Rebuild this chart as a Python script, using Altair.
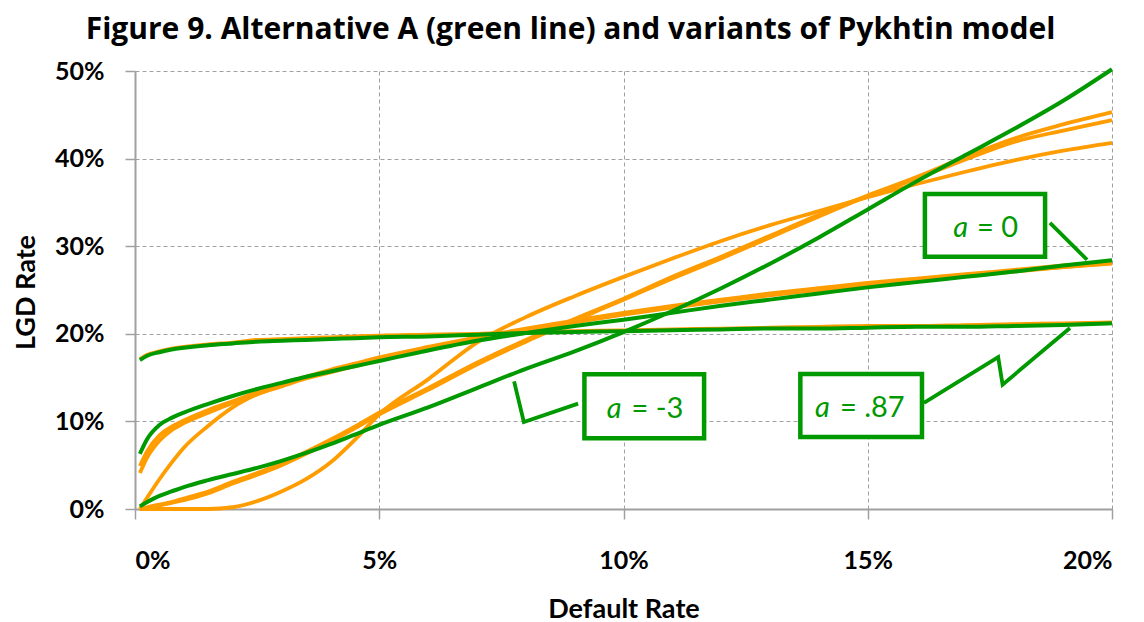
import altair as alt
import pandas as pd

# ---------------- data (values in percent) ----------------
dr = [0.1, 0.25, 0.5, 0.75, 1, 1.5, 2, 2.5, 3, 3.5, 4, 4.5, 5, 6, 7, 8, 9, 10,
      11, 12, 13, 14, 15, 16, 17, 18, 19, 20]

green_a087 = [17.0, 17.5, 17.9, 18.2, 18.4, 18.7, 18.9, 19.1, 19.2, 19.3, 19.4, 19.5, 19.6, 19.7,
              19.9, 20.1, 20.2, 20.3, 20.4, 20.5, 20.6, 20.6, 20.7, 20.8, 20.8, 20.9, 21.0, 21.2]
green_a0 = [6.3, 8.0, 9.6, 10.4, 11.0, 12.0, 12.9, 13.7, 14.4, 15.1, 15.7, 16.3, 16.9, 18.1,
            19.2, 20.1, 20.9, 21.6, 22.4, 23.2, 23.9, 24.6, 25.3, 25.9, 26.5, 27.1, 27.8, 28.4]
green_am3 = [0.3, 0.8, 1.5, 2.0, 2.5, 3.3, 4.0, 4.7, 5.5, 6.4, 7.4, 8.5, 9.6, 11.6,
             13.8, 16.0, 18.0, 20.2, 22.6, 25.2, 28.0, 31.0, 34.2, 37.4, 40.4, 43.4, 46.6, 50.2]

orange_a = [17.1, 17.6, 18.0, 18.3, 18.5, 18.8, 19.0, 19.3, 19.4, 19.5, 19.6, 19.7, 19.8, 19.9,
            20.0, 20.2, 20.3, 20.4, 20.5, 20.6, 20.7, 20.8, 20.9, 20.9, 21.0, 21.1, 21.2, 21.3]
orange_b = [4.9, 6.6, 8.4, 9.4, 10.1, 11.3, 12.3, 13.3, 14.2, 15.0, 15.7, 16.4, 17.1, 18.3,
            19.4, 20.4, 21.4, 22.3, 23.1, 23.8, 24.5, 25.1, 25.7, 26.2, 26.7, 27.2, 27.6, 28.1]
orange_c = [4.1, 5.9, 7.8, 9.0, 9.8, 11.0, 12.1, 13.1, 14.0, 14.9, 15.6, 16.3, 17.0, 18.2,
            19.3, 20.3, 21.3, 22.2, 23.0, 23.7, 24.4, 25.0, 25.6, 26.1, 26.6, 27.1, 27.6, 28.0]
orange_d = [0.0, 1.3, 3.4, 5.3, 7.0, 9.5, 11.6, 13.1, 14.2, 15.1, 15.9, 16.6, 17.3, 18.5,
            19.6, 20.6, 21.5, 22.4, 23.2, 23.9, 24.6, 25.2, 25.8, 26.3, 26.8, 27.3, 27.8, 28.2]
orange_e = [0.0, 0.2, 0.5, 0.8, 1.2, 2.0, 3.1, 4.1, 5.2, 6.5, 7.9, 9.4, 11.0, 13.8,
            16.7, 19.3, 21.7, 24.0, 26.5, 28.8, 31.2, 33.6, 35.8, 37.9, 40.2, 42.3, 43.9, 45.3]
orange_f = [0.0, 0.1, 0.4, 0.7, 1.0, 1.8, 2.9, 3.9, 5.0, 6.3, 7.7, 9.2, 10.8, 13.6,
            16.5, 19.1, 21.5, 23.9, 26.3, 28.6, 31.0, 33.4, 35.7, 37.7, 39.9, 41.9, 43.2, 44.4]
orange_g = [0.0, 0.0, 0.0, 0.0, 0.0, 0.0, 0.2, 0.9, 2.0, 3.4, 5.3, 7.9, 10.8, 14.8,
            19.0, 21.9, 24.3, 26.5, 28.6, 30.6, 32.4, 34.0, 35.6, 37.1, 38.5, 39.8, 40.9, 41.8]

series = [
    ("Pykhtin variant 1", "orange", orange_a),
    ("Pykhtin variant 2", "orange", orange_b),
    ("Pykhtin variant 3", "orange", orange_c),
    ("Pykhtin variant 4", "orange", orange_d),
    ("Pykhtin variant 5", "orange", orange_e),
    ("Pykhtin variant 6", "orange", orange_f),
    ("Pykhtin variant 7", "orange", orange_g),
    ("Alternative A, a = .87", "green", green_a087),
    ("Alternative A, a = 0", "green", green_a0),
    ("Alternative A, a = -3", "green", green_am3),
]

rows = []
for name, grp, vals in series:
    for x, v in zip(dr, vals):
        rows.append({"series": name, "group": grp, "dr": x, "lgd": v})
df = pd.DataFrame(rows)

# annotation labels: box corners, label anchor and callout paths (data coordinates)
ann_labels = ["0", "-3", ".87"]
box_x1 = [16.17, 9.20, 13.62]
box_x2 = [18.63, 11.65, 16.11]
box_y1 = [28.79, 8.07, 8.23]
box_y2 = [35.97, 15.37, 15.42]
txt_x = [17.40, 10.43, 14.86]
txt_y = [32.38, 11.72, 11.82]
a_dx = [-17, -23, -31]
rest_dx = [-8, -13, -21]

callout_ids = ["0", "0", "-3", "-3", "-3", ".87", ".87", ".87", ".87"]
callout_x = [18.73, 19.49, 9.07, 7.96, 7.76, 16.15, 17.67, 17.76, 19.14]
callout_y = [32.67, 28.45, 12.03, 9.94, 14.57, 12.11, 17.35, 14.20, 20.66]
callout_ord = [0, 1, 0, 1, 2, 0, 1, 2, 3]

TITLE = "Figure 9. Alternative A (green line) and variants of Pykhtin model"

GREEN = "#009900"
ORANGE = "#FF9C00"
GRID = "#a0a0a0"

xscale = alt.Scale(domain=[0, 20], nice=False, zero=True)
yscale = alt.Scale(domain=[0, 50], nice=False)

xaxis = alt.Axis(values=[0, 5, 10, 15, 20], labelExpr="datum.value + '%'",
                 title="Default Rate", labelPadding=29, titleX=488.5, titleY=108,
                 titleBaseline="alphabetic", titleAlign="center")
yaxis = alt.Axis(values=[0, 10, 20, 30, 40, 50], labelExpr="datum.value + '%'",
                 title="LGD Rate", labelPadding=21, titleX=-101, titleY=221,
                 titleAngle=270, titleBaseline="alphabetic", titleAlign="center")

X = alt.X("dr:Q", scale=xscale, axis=xaxis)
Y = alt.Y("lgd:Q", scale=yscale, axis=yaxis)

orange = alt.Chart(df[df.group == "orange"]).mark_line(
    color=ORANGE, strokeWidth=3.8, interpolate="monotone", clip=False
).encode(x=X, y=Y, detail="series:N")

green = alt.Chart(df[df.group == "green"]).mark_line(
    color=GREEN, strokeWidth=4, interpolate="monotone"
).encode(x=X, y=Y, detail="series:N")

cdf = pd.DataFrame({"id": callout_ids, "x": callout_x, "y": callout_y, "o": callout_ord})
callouts = alt.Chart(cdf).mark_line(color=GREEN, strokeWidth=3.8).encode(
    x=alt.X("x:Q", scale=xscale), y=alt.Y("y:Q", scale=yscale),
    detail="id:N", order="o:Q")

bdf = pd.DataFrame({"lab": ann_labels, "x1": box_x1, "x2": box_x2, "y1": box_y1, "y2": box_y2,
                    "tx": txt_x, "ty": txt_y})
bdf["rest"] = "= " + bdf["lab"]
boxes = alt.Chart(bdf).mark_rect(fill="white", stroke=GREEN, strokeWidth=4.5).encode(
    x=alt.X("x1:Q", scale=xscale), x2="x2:Q",
    y=alt.Y("y1:Q", scale=yscale), y2="y2:Q")

txt_layers = []
for i in range(len(ann_labels)):
    sub = bdf.iloc[[i]]
    txt_layers.append(alt.Chart(sub).mark_text(
        text="a", font="Lato", fontStyle="italic", fontSize=29, color=GREEN,
        align="right", baseline="alphabetic", dx=a_dx[i], dy=11.5
    ).encode(x=alt.X("tx:Q", scale=xscale), y=alt.Y("ty:Q", scale=yscale)))
    txt_layers.append(alt.Chart(sub).mark_text(
        font="Lato", fontSize=29, color=GREEN,
        align="left", baseline="alphabetic", dx=rest_dx[i], dy=11.5
    ).encode(x=alt.X("tx:Q", scale=xscale), y=alt.Y("ty:Q", scale=yscale), text="rest:N"))

chart = alt.layer(orange, green, callouts, boxes, *txt_layers).properties(
    width=977, height=438,
    autosize=alt.AutoSizeParams(type="none"),
    padding={"left": 127, "top": 63, "right": 24, "bottom": 116},
    title=alt.TitleParams(
        TITLE, font="Open Sans", fontSize=30, fontWeight="bold", color="black",
        anchor="middle", frame="group", dx=-53, offset=14),
).configure_view(stroke=None).configure_axis(
    gridColor=GRID, gridDash=[4, 3], gridWidth=1,
    domainColor=GRID, domainWidth=2, tickColor=GRID, tickWidth=1.5, tickSize=10,
    labelFont="Lato", labelFontWeight="bold", labelFontSize=25, labelColor="black",
    titleFont="Lato", titleFontWeight="bold", titleFontSize=27, titleColor="black",
)

chart.save("out.html", embed_options={"renderer": "svg", "actions": False})
